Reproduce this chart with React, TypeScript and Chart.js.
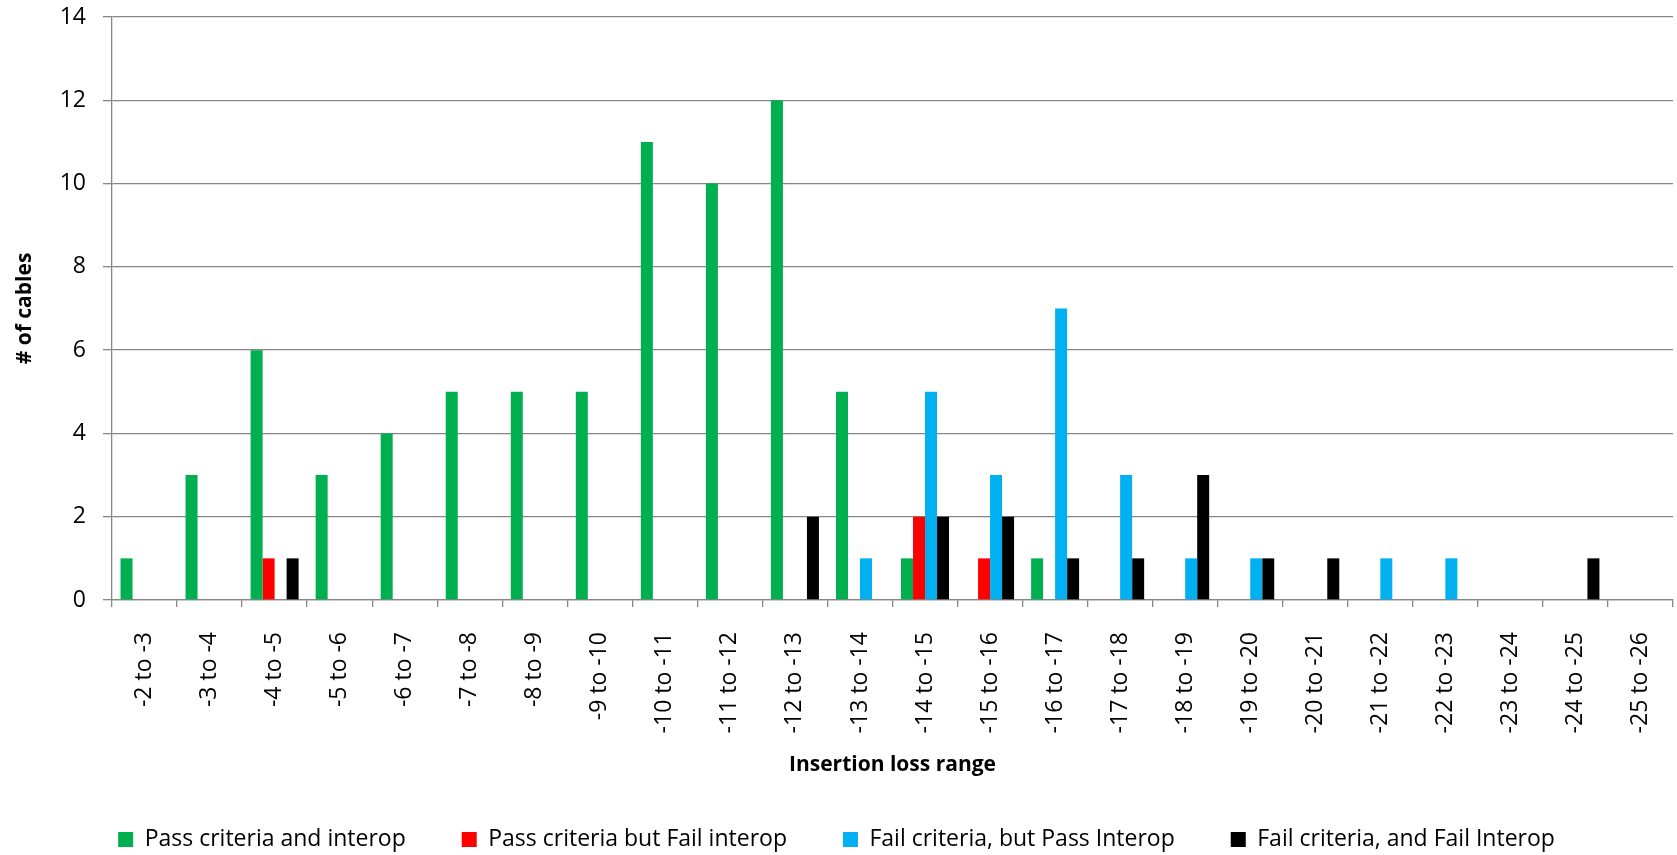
import React, { useEffect, useRef } from "react";
import { Chart, registerables } from "chart.js";

Chart.register(...registerables);

const categories = [
  "-2 to -3", "-3 to -4", "-4 to -5", "-5 to -6", "-6 to -7", "-7 to -8",
  "-8 to -9", "-9 to -10", "-10 to -11", "-11 to -12", "-12 to -13", "-13 to -14",
  "-14 to -15", "-15 to -16", "-16 to -17", "-17 to -18", "-18 to -19", "-19 to -20",
  "-20 to -21", "-21 to -22", "-22 to -23", "-23 to -24", "-24 to -25", "-25 to -26",
];

const passCriteriaAndInterop = [1, 3, 6, 3, 4, 5, 5, 5, 11, 10, 12, 5, 1, 0, 1, 0, 0, 0, 0, 0, 0, 0, 0, 0];
const passCriteriaFailInterop = [0, 0, 1, 0, 0, 0, 0, 0, 0, 0, 0, 0, 2, 1, 0, 0, 0, 0, 0, 0, 0, 0, 0, 0];
const failCriteriaPassInterop = [0, 0, 0, 0, 0, 0, 0, 0, 0, 0, 0, 1, 5, 3, 7, 3, 1, 1, 0, 1, 1, 0, 0, 0];
const failCriteriaFailInterop = [0, 0, 1, 0, 0, 0, 0, 0, 0, 0, 2, 0, 2, 2, 1, 1, 3, 1, 1, 0, 0, 0, 1, 0];

const seriesLabels = [
  "Pass criteria and interop",
  "Pass criteria but Fail interop",
  "Fail criteria, but Pass Interop",
  "Fail criteria, and Fail Interop",
];
const seriesColors = ["#00B050", "#FF0000", "#00B0F0", "#000000"];

const yTitle = "# of cables";
const xTitle = "Insertion loss range";

const FONT = "'Open Sans', sans-serif";
const GRID = "#868686";

const legendHeightPlugin = {
  id: "legendHeight",
  afterInit(chart: any) {
    const legend = chart.legend;
    if (!legend) return;
    const orig = legend.fit;
    legend.fit = function () {
      orig.call(this);
      this.height = 83;
    };
  },
};

export default function App() {
  const ref = useRef<HTMLCanvasElement | null>(null);

  useEffect(() => {
    document.body.style.margin = "0";
    const canvas = ref.current;
    if (!canvas) return;
    const values = [
      passCriteriaAndInterop,
      passCriteriaFailInterop,
      failCriteriaPassInterop,
      failCriteriaFailInterop,
    ];
    const chart = new Chart(canvas, {
      type: "bar",
      data: {
        labels: categories,
        datasets: values.map((v, i) => ({
          label: seriesLabels[i],
          data: v,
          backgroundColor: seriesColors[i],
          borderWidth: 0,
          categoryPercentage: 0.738,
          barPercentage: 1,
        })),
      },
      options: {
        animation: false,
        responsive: false,
        devicePixelRatio: 1,
        layout: { padding: { left: 0, right: 4, top: 17, bottom: 0 } },
        plugins: {
          tooltip: { enabled: false },
          legend: {
            position: "bottom",
            labels: {
              boxWidth: 15,
              boxHeight: 15,
              padding: 56,
              color: "#000",
              font: { family: FONT, size: 23 },
            },
          },
        },
        scales: {
          x: {
            offset: true,
            grid: {
              display: true,
              offset: true,
              drawOnChartArea: false,
              drawTicks: true,
              tickLength: 7,
              color: GRID,
              lineWidth: 1.3,
            },
            border: { display: true, color: GRID, width: 1.3 },
            ticks: {
              autoSkip: false,
              maxRotation: 90,
              minRotation: 90,
              padding: 25,
              color: "#000",
              font: { family: FONT, size: 23 },
            },
            title: {
              display: true,
              text: xTitle,
              color: "#000",
              font: { family: FONT, size: 21, weight: "bold" },
              padding: { top: 0, bottom: -6 },
            },
            afterFit(scale: any) {
              scale.height = 172;
              scale.paddingLeft = 0;
              scale.paddingRight = 0;
            },
          },
          y: {
            min: 0,
            max: 14,
            ticks: {
              stepSize: 2,
              padding: 17,
              color: "#000",
              font: { family: FONT, size: 23 },
            },
            grid: {
              color: GRID,
              lineWidth: 1.3,
              drawTicks: true,
              tickLength: 9,
            },
            border: { display: true, color: GRID, width: 1.3 },
            title: {
              display: true,
              text: yTitle,
              color: "#000",
              font: { family: FONT, size: 21, weight: "bold" },
              padding: { top: 12, bottom: 0 },
            },
            afterFit(scale: any) {
              scale.width = 112;
              scale.paddingTop = 0;
              scale.paddingBottom = 0;
            },
          },
        },
      },
      plugins: [legendHeightPlugin],
    });
    return () => chart.destroy();
  }, []);

  return (
    <div style={{ width: 1677, height: 855 }}>
      <canvas ref={ref} width={1677} height={855} style={{ display: "block", width: 1677, height: 855 }} />
    </div>
  );
}
